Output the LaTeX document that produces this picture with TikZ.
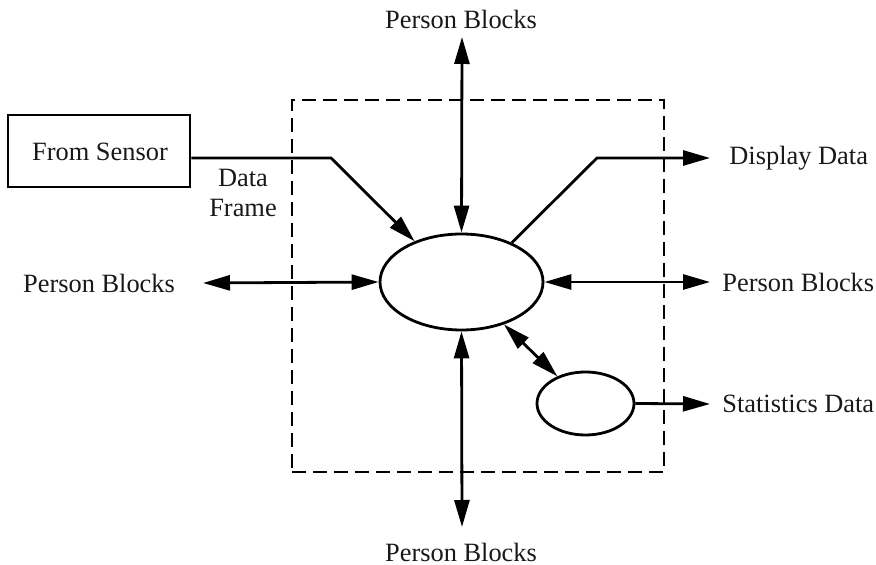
\documentclass[tikz,border=0pt]{standalone}
\usepackage{fontspec}
\setmainfont{Liberation Serif}
\usetikzlibrary{arrows.meta,shapes.geometric,calc}
\begin{document}
\begin{tikzpicture}[x=0.5pt,y=-0.5pt,
  line width=1.4pt,
  txt/.style={font=\fontsize{13.2}{15}\selectfont, inner sep=0pt, text=black!90},
  oval/.style={draw, ellipse, inner sep=0pt},
  tip/.style={-{Triangle[length=13.5pt,width=7.5pt]}},
  tips/.style={{Triangle[length=13.5pt,width=7.5pt]}-{Triangle[length=13.5pt,width=7.5pt]}},
  framebox/.style={draw, dash pattern=on 7pt off 3.5pt, minimum width=186pt, minimum height=186pt, inner sep=0pt}]
\useasboundingbox (0,0) rectangle (876,565);
% frame
\node[framebox] (frame) at (478,286) {};
% nodes
\node[draw, minimum width=91pt, minimum height=36pt, inner sep=0pt] (box) at (99,151) {};
\node[txt] (boxtxt) at (100,152) {From Sensor};
\node[oval, minimum width=81.5pt, minimum height=48pt] (big) at (461.5,282) {};
\node[oval, minimum width=48.5pt, minimum height=31.5pt] (small) at (585.5,403.5) {};
% texts
\node[txt] (ptop) at (461,19) {Person Blocks};
\node[txt] (pbot) at (461,552) {Person Blocks};
\node[txt] (pleft) at (99,283) {Person Blocks};
\node[txt, anchor=west] (pright) at (721,282) {Person Blocks};
\node[txt, anchor=west] (disp) at (728,158) {Display Data};
\node[txt, anchor=west] (stat) at (721,404) {Statistics Data};
\node[txt, align=center, font=\fontsize{13.2}{15}\selectfont] (df) at (243,193) {Data\\Frame};
% coordinates
\coordinate (c1) at (331,158);
\coordinate (c2) at (597,158);
\coordinate (ttip) at (462,37);
\coordinate (btip) at (462,527);
\coordinate (ltip) at (203,283);
\coordinate (rtip) at (710,282);
\coordinate (dtip) at (710,158);
\coordinate (stip) at (710,404);
% connectors
\draw[tip] ($(box.east)+(0,7)$) -- (c1) -- (big.139);
\draw[tips] (ttip) -- (big.north);
\draw[tips] (big.south) -- (btip);
\draw[tips] (ltip) -- (big.west);
\draw[tips] (big.east) -- (rtip);
\draw[tip] (big.38) -- (c2) -- (dtip);
\draw[tips] (big.-45) -- (small.136);
\draw[tip] (small.east) -- (stip);
\end{tikzpicture}
\end{document}
